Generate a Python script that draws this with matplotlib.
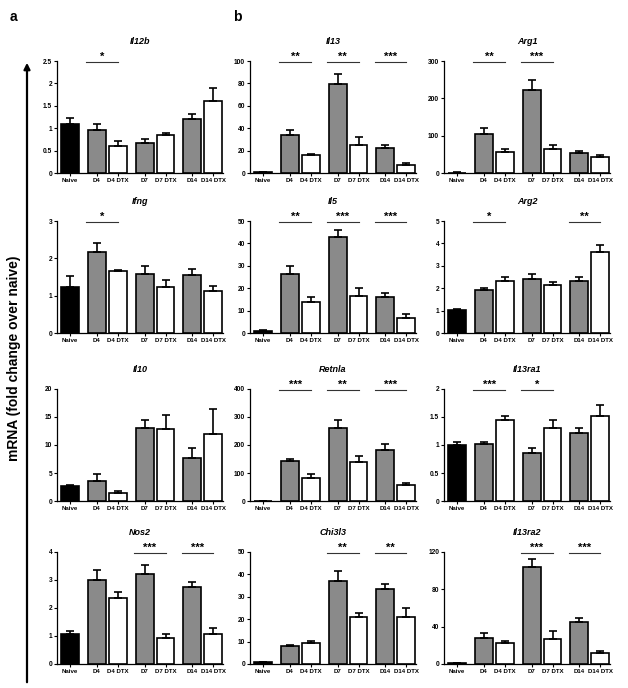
import numpy as np
import matplotlib
matplotlib.use('Agg')
import matplotlib.pyplot as plt

plt.rcParams['font.family'] = ['Liberation Sans', 'DejaVu Sans']
plt.rcParams['font.weight'] = 'bold'

groups = ['Naive', 'D4', 'D4 DTX', 'D7', 'D7 DTX', 'D14', 'D14 DTX']

# mean values and upper error (absolute top of error bar) per gene
il12b = [1.10, 0.97, 0.61, 0.67, 0.84, 1.21, 1.61]
il12b_top = [1.22, 1.10, 0.71, 0.75, 0.89, 1.32, 1.89]
ifng = [1.23, 2.17, 1.66, 1.59, 1.24, 1.55, 1.12]
ifng_top = [1.53, 2.40, 1.70, 1.79, 1.42, 1.71, 1.26]
il10 = [2.6, 3.6, 1.5, 13.1, 12.8, 7.7, 11.9]
il10_top = [2.9, 4.75, 1.85, 14.4, 15.3, 9.4, 16.4]
nos2 = [1.06, 2.99, 2.36, 3.21, 0.93, 2.74, 1.07]
nos2_top = [1.18, 3.34, 2.58, 3.55, 1.08, 2.94, 1.27]
il13 = [0.8, 33.7, 15.8, 79.8, 24.7, 22.6, 7.5]
il13_top = [1.0, 38.0, 17.3, 88.0, 32.0, 24.7, 9.3]
il5 = [0.8, 26.5, 13.8, 42.7, 16.5, 16.0, 6.7]
il5_top = [1.2, 30.0, 16.0, 46.2, 20.0, 17.7, 8.5]
retnla = [1, 143, 83, 260, 140, 183, 56]
retnla_top = [1.5, 150, 95, 290, 159, 203, 63]
chi3l3 = [0.8, 7.9, 9.3, 37.0, 21.0, 33.5, 21.2]
chi3l3_top = [1.1, 8.5, 10.2, 41.4, 22.8, 35.6, 24.8]
arg1 = [1, 105, 55, 222, 65, 53, 43]
arg1_top = [1.5, 120, 64, 248, 75, 59, 48]
arg2 = [1.03, 1.90, 2.34, 2.40, 2.13, 2.34, 3.62]
arg2_top = [1.07, 1.99, 2.52, 2.62, 2.28, 2.52, 3.91]
il13ra1 = [1.00, 1.02, 1.45, 0.85, 1.30, 1.21, 1.52]
il13ra1_top = [1.05, 1.05, 1.52, 0.95, 1.44, 1.31, 1.71]
il13ra2 = [0.8, 27.9, 22.9, 104, 27.0, 45.0, 11.4]
il13ra2_top = [1.0, 32.9, 24.3, 113, 35.0, 49.6, 14.3]

# (title, values, error tops, y ticks, significance {pair index: stars})
panels = [
    ('Il12b', il12b, il12b_top, [0, 0.5, 1, 1.5, 2, 2.5], {0: '*'}),
    ('Ifng', ifng, ifng_top, [0, 1, 2, 3], {0: '*'}),
    ('Il10', il10, il10_top, [0, 5, 10, 15, 20], {}),
    ('Nos2', nos2, nos2_top, [0, 1, 2, 3, 4], {1: '***', 2: '***'}),
    ('Il13', il13, il13_top, [0, 20, 40, 60, 80, 100], {0: '**', 1: '**', 2: '***'}),
    ('Il5', il5, il5_top, [0, 10, 20, 30, 40, 50], {0: '**', 1: '***', 2: '***'}),
    ('Retnla', retnla, retnla_top, [0, 100, 200, 300, 400], {0: '***', 1: '**', 2: '***'}),
    ('Chi3l3', chi3l3, chi3l3_top, [0, 10, 20, 30, 40, 50], {1: '**', 2: '**'}),
    ('Arg1', arg1, arg1_top, [0, 100, 200, 300], {0: '**', 1: '***'}),
    ('Arg2', arg2, arg2_top, [0, 1, 2, 3, 4, 5], {0: '*', 2: '**'}),
    ('Il13ra1', il13ra1, il13ra1_top, [0, 0.5, 1, 1.5, 2], {0: '***', 1: '*'}),
    ('Il13ra2', il13ra2, il13ra2_top, [0, 40, 80, 120], {1: '***', 2: '***'}),
]

W, H = 628, 688
fig = plt.figure(figsize=(W / 100, H / 100), dpi=100)

xpos = np.array([0, 1.28, 2.28, 3.56, 4.56, 5.84, 6.84])
colors = ['black', '#8a8a8a', 'white', '#8a8a8a', 'white', '#8a8a8a', 'white']
col_left = [57, 250, 444]
row_bottom = [173, 333, 501, 664]
ax_w, ax_h = 166, 112

for i, (name, vals, tops, yt, sig) in enumerate(panels):
    col, row = divmod(i, 4)
    ax = fig.add_axes([col_left[col] / W, 1 - row_bottom[row] / H, ax_w / W, ax_h / H])
    err = np.array(tops) - np.array(vals)
    ax.bar(xpos, vals, width=0.85, color=colors, edgecolor='black', linewidth=1.2,
           yerr=[np.zeros(7), err], capsize=2.6,
           error_kw=dict(elinewidth=1.2, capthick=1.2, ecolor='black'), zorder=3)
    top = yt[-1]
    ax.set_ylim(0, top)
    ax.set_xlim(-0.62, 7.3)
    ax.set_yticks(yt)
    ax.set_yticklabels([f'{t:g}' for t in yt])
    ax.set_xticks(xpos)
    ax.set_xticklabels(groups)
    ax.tick_params(axis='y', labelsize=4.8, length=2, width=0.8, pad=1.5)
    ax.tick_params(axis='x', labelsize=4.4, length=2, width=0.8, pad=1.5)
    for s in ['top', 'right']:
        ax.spines[s].set_visible(False)
    for s in ['left', 'bottom']:
        ax.spines[s].set_linewidth(0.9)
    ax.set_title(name, fontsize=6.5, style='italic', fontweight='bold', pad=12)
    for k, stars in sig.items():
        a, b = xpos[1 + 2 * k], xpos[2 + 2 * k]
        ax.plot([a - 0.5, b], [top * 0.99, top * 0.99], color='#333333', lw=0.8,
                clip_on=False)
        ax.text((a - 0.5 + b) / 2, top * 0.99, stars, ha='center', va='bottom',
                fontsize=8, fontweight='bold', clip_on=False)

fig.text(10 / W, 1 - 17 / H, 'a', fontsize=10, fontweight='bold', va='center')
fig.text(233 / W, 1 - 17 / H, 'b', fontsize=10, fontweight='bold', va='center')

fig.add_artist(matplotlib.patches.FancyArrowPatch(
    (27 / W, 1 - 685 / H), (27 / W, 1 - 60 / H), transform=fig.transFigure,
    arrowstyle='-|>', mutation_scale=9, lw=1.6, color='black'))
fig.text(14 / W, 1 - 358 / H, 'mRNA (fold change over naive)', rotation=90,
         fontsize=10, fontweight='bold', ha='center', va='center')

fig.savefig('out.png', dpi=100)
